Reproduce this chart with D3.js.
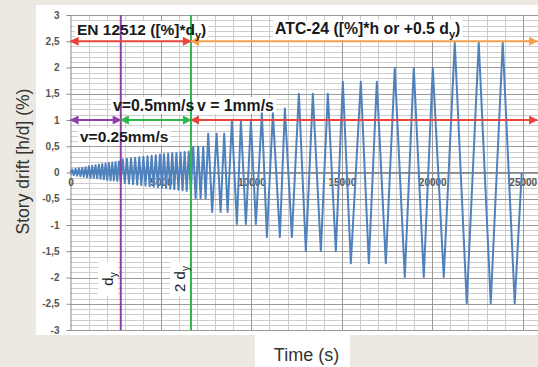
<!DOCTYPE html>
<html>
<head>
<meta charset="utf-8">
<script src="https://cdn.jsdelivr.net/npm/d3@7/dist/d3.min.js"></script>
<style>
  body { margin: 0; background: #ebe9e1; }
  svg { display: block; font-family: "Liberation Sans", Arial, sans-serif; }
</style>
</head>
<body>
<svg width="538" height="367"></svg>
<script>
// turning points of the loading history
// phase 1, v=0.25mm/s
const slowTime = [0, 90, 180, 275, 365, 460, 550, 645, 735, 830, 920, 1015, 1105, 1200, 1290, 1385,
    1475, 1570, 1660, 1755, 1845, 1940, 2030, 2125, 2215, 2310, 2400, 2495, 2585, 2680, 2770];
const slowDrift = [0, 0.06, -0.05, 0.07, -0.06, 0.08, -0.07, 0.09, -0.08, 0.1, -0.09, 0.12, -0.1, 0.13, -0.1, 0.14,
    -0.11, 0.15, -0.12, 0.16, -0.13, 0.17, -0.14, 0.18, -0.15, 0.19, -0.15, 0.2, -0.16, 0.21, -0.17];

// phase 2, v=0.5mm/s
const midTime = [2890, 3004, 3118, 3232, 3346, 3460, 3574, 3688, 3802, 3916, 4030, 4144, 4258, 4372, 4486, 4600,
    4714, 4828, 4942, 5056, 5170, 5284, 5398, 5512, 5626, 5740, 5854, 5968, 6082, 6196, 6310, 6424, 6538, 6652];
const midDrift = [0.25, -0.2, 0.26, -0.21, 0.27, -0.22, 0.28, -0.23, 0.29, -0.24, 0.3, -0.25, 0.31, -0.26, 0.32, -0.27,
    0.33, -0.28, 0.34, -0.29, 0.35, -0.3, 0.36, -0.31, 0.37, -0.32, 0.37, -0.33, 0.38, -0.34, 0.39, -0.35, 0.4, -0.37];

// phase 3, v = 1mm/s
const fastTime = [6785, 6917, 7061, 7193, 7337, 7470, 7613, 7834, 8077, 8298, 8497, 8685, 8923, 9199, 9420, 9696,
    9972, 10249, 10580, 10856, 11188, 11575, 11851, 12238, 12624, 13011, 13398, 13840, 14227, 14669, 15055, 15497,
    16050, 16492, 16934, 17431, 17928, 18481, 18978, 19530, 20028, 20635, 21243, 21906, 22569, 23232, 23895, 24558, 24945];
const fastDrift = [0.49, -0.49, 0.49, -0.49, 0.49, -0.49, 0.74, -0.75, 0.74, -0.75, 0.74, -0.75, 0.98, -0.98, 0.98, -0.98,
    0.98, -0.98, 1.13, -1.23, 1.13, -1.23, 1.22, -1.23, 1.5, -1.5, 1.5, -1.5, 1.5, -1.5, 1.73, -1.73,
    1.73, -1.73, 1.73, -1.73, 1.99, -1.99, 1.99, -1.99, 1.99, -1.99, 2.47, -2.49, 2.47, -2.49, 2.47, -2.49, 0];

// yield marks (s) and arrow levels (%)
const dyTime = 2780;
const dy2Time = 6660;
const testEnd = 25800;
const upperLevel = 2.5;
const lowerLevel = 1;

const xTicks = [0, 5000, 10000, 15000, 20000, 25000];
const yTicks = [-3, -2.5, -2, -1.5, -1, -0.5, 0, 0.5, 1, 1.5, 2, 2.5, 3];

const series = [];
[[slowTime, slowDrift], [midTime, midDrift], [fastTime, fastDrift]].forEach(([ts, vs]) => {
    ts.forEach((t, i) => series.push({t: t, v: vs[i]}));
});

const svg = d3.select("svg");

// white panels
svg.append("rect").attr("x", 36).attr("y", 5).attr("width", 502).attr("height", 330).attr("fill", "#fff");
svg.append("rect").attr("x", 255).attr("y", 335).attr("width", 95).attr("height", 32).attr("fill", "#fff");

const x = d3.scaleLinear().domain([0, 25900]).range([70.5, 539]);
const y = d3.scaleLinear().domain([-3, 3]).range([330, 15]);

// layers: grid, label boxes, marks, texts
const grid = svg.append("g");
const boxes = svg.append("g");
const marks = svg.append("g");
const texts = svg.append("g");

// minor grid
grid.selectAll(".hmin").data(d3.range(-30, 31).map(d => d / 10)).enter().append("line")
    .attr("x1", x(0)).attr("x2", 539)
    .attr("y1", d => Math.round(y(d)) + 0.5).attr("y2", d => Math.round(y(d)) + 0.5)
    .attr("stroke", "#cdcdcd").attr("stroke-width", 1);
grid.selectAll(".vmin").data(d3.range(1000, 26000, 1000)).enter().append("line")
    .attr("x1", d => Math.round(x(d)) + 0.5).attr("x2", d => Math.round(x(d)) + 0.5)
    .attr("y1", y(3)).attr("y2", y(-3))
    .attr("stroke", "#cdcdcd").attr("stroke-width", 1);

// major grid
grid.selectAll(".hmaj").data(yTicks).enter().append("line")
    .attr("x1", x(0)).attr("x2", 539)
    .attr("y1", d => Math.round(y(d)) + 0.5).attr("y2", d => Math.round(y(d)) + 0.5)
    .attr("stroke", "#9a9a9a").attr("stroke-width", 1);
grid.selectAll(".vmaj").data(xTicks.slice(1)).enter().append("line")
    .attr("x1", d => Math.round(x(d)) + 0.5).attr("x2", d => Math.round(x(d)) + 0.5)
    .attr("y1", y(3)).attr("y2", y(-3))
    .attr("stroke", "#9a9a9a").attr("stroke-width", 1);

// axes
const fmt = d => String(d).replace(".", ",");
const yAxis = grid.append("g").attr("transform", "translate(" + x(0) + ",0)")
    .call(d3.axisLeft(y).tickValues(yTicks).tickFormat(fmt).tickSize(4).tickPadding(7));
const xAxis = grid.append("g").attr("transform", "translate(0," + y(0) + ")")
    .call(d3.axisBottom(x).tickValues(xTicks).tickFormat(d => String(d)).tickSize(3).tickPadding(3));
[yAxis, xAxis].forEach(a => {
    a.select(".domain").attr("stroke", "#8a8a8a");
    a.selectAll(".tick line").attr("stroke", "#8a8a8a");
    a.selectAll("text").attr("fill", "#555").attr("font-size", 10).attr("font-weight", "bold")
        .attr("font-family", "'Liberation Sans', Arial, sans-serif");
});
xAxis.select(".domain").attr("d", "M" + x(0) + ",0H539");

// drift history
const line = d3.line().x(d => x(d.t)).y(d => y(d.v));
marks.append("path").datum(series).attr("d", line)
    .attr("fill", "none").attr("stroke", "#4f81bd").attr("stroke-width", 2).attr("stroke-linejoin", "round");

// vertical yield lines
marks.append("line").attr("x1", x(dyTime)).attr("x2", x(dyTime)).attr("y1", y(3)).attr("y2", y(-3))
    .attr("stroke", "#8e3fa8").attr("stroke-width", 2);
marks.append("line").attr("x1", x(dy2Time)).attr("x2", x(dy2Time)).attr("y1", y(3)).attr("y2", y(-3))
    .attr("stroke", "#2cb84c").attr("stroke-width", 2);

// arrows
const defs = svg.append("defs");
function marker(id, color) {
    defs.append("marker").attr("id", id).attr("viewBox", "0 0 10 10").attr("refX", 9).attr("refY", 5)
        .attr("markerWidth", 5).attr("markerHeight", 4.5).attr("orient", "auto-start-reverse")
        .append("path").attr("d", "M0,0L10,5L0,10z").attr("fill", color);
}
function arrow(t0, t1, level, color, id) {
    marker(id, color);
    marks.append("line").attr("x1", x(t0)).attr("x2", x(t1)).attr("y1", y(level)).attr("y2", y(level))
        .attr("stroke", color).attr("stroke-width", 2)
        .attr("marker-start", "url(#" + id + ")").attr("marker-end", "url(#" + id + ")");
}
arrow(0, dy2Time, upperLevel, "#e8453c", "a1");
arrow(dy2Time, testEnd, upperLevel, "#f6a04d", "a2");
arrow(0, dyTime, lowerLevel, "#8e3fa8", "a3");
arrow(dyTime, dy2Time, lowerLevel, "#2cb84c", "a4");
arrow(dy2Time, testEnd, lowerLevel, "#e8453c", "a5");

// labels with white boxes
function label(px, py, parts, size) {
    const t = texts.append("text").attr("x", px).attr("y", py)
        .attr("font-size", size).attr("font-weight", "bold").attr("fill", "#1a1a1a");
    parts.forEach(p => {
        const s = t.append("tspan").text(p.text);
        if (p.sub) s.attr("font-size", size * 0.7).attr("dy", 4);
        if (p.after) s.attr("dy", -4);
    });
    const b = t.node().getBBox();
    boxes.append("rect").attr("fill", "#fff")
        .attr("x", b.x - 2).attr("y", b.y).attr("width", b.width + 4).attr("height", b.height);
}
label(77, 35, [{text: "EN 12512 ([%]*d"}, {text: "y", sub: true}, {text: ")", after: true}], 15.5);
label(275, 34, [{text: "ATC-24 ([%]*h or +0.5 d"}, {text: "y", sub: true}, {text: ")", after: true}], 15.8);
label(113, 111, [{text: "v=0.5mm/s"}], 15.8);
label(197, 111, [{text: "v = 1mm/s"}], 15.8);
label(80, 142, [{text: "v=0.25mm/s"}], 15.5);

// rotated yield labels
function yieldLabel(cx, parts) {
    boxes.append("rect").attr("x", cx - 12).attr("y", 262).attr("width", 20).attr("height", 34).attr("fill", "#fff");
    const t = texts.append("text").attr("transform", "translate(" + (cx + 3) + ",279) rotate(-90)")
        .attr("text-anchor", "middle").attr("font-size", 15).attr("fill", "#1a1a1a");
    parts.forEach(p => {
        const s = t.append("tspan").text(p.text);
        if (p.sub) s.attr("font-size", 10).attr("dy", 4);
    });
}
yieldLabel(110, [{text: "d"}, {text: "y", sub: true}]);
yieldLabel(182, [{text: "2 d"}, {text: "y", sub: true}]);

// axis titles
texts.append("text").attr("transform", "translate(29,161.5) rotate(-90)").attr("text-anchor", "middle")
    .attr("font-size", 17.5).attr("fill", "#333").text("Story drift [h/d] (%)");
texts.append("text").attr("x", 306.5).attr("y", 361).attr("text-anchor", "middle")
    .attr("font-size", 18).attr("fill", "#333").text("Time (s)");
</script>
</body>
</html>
